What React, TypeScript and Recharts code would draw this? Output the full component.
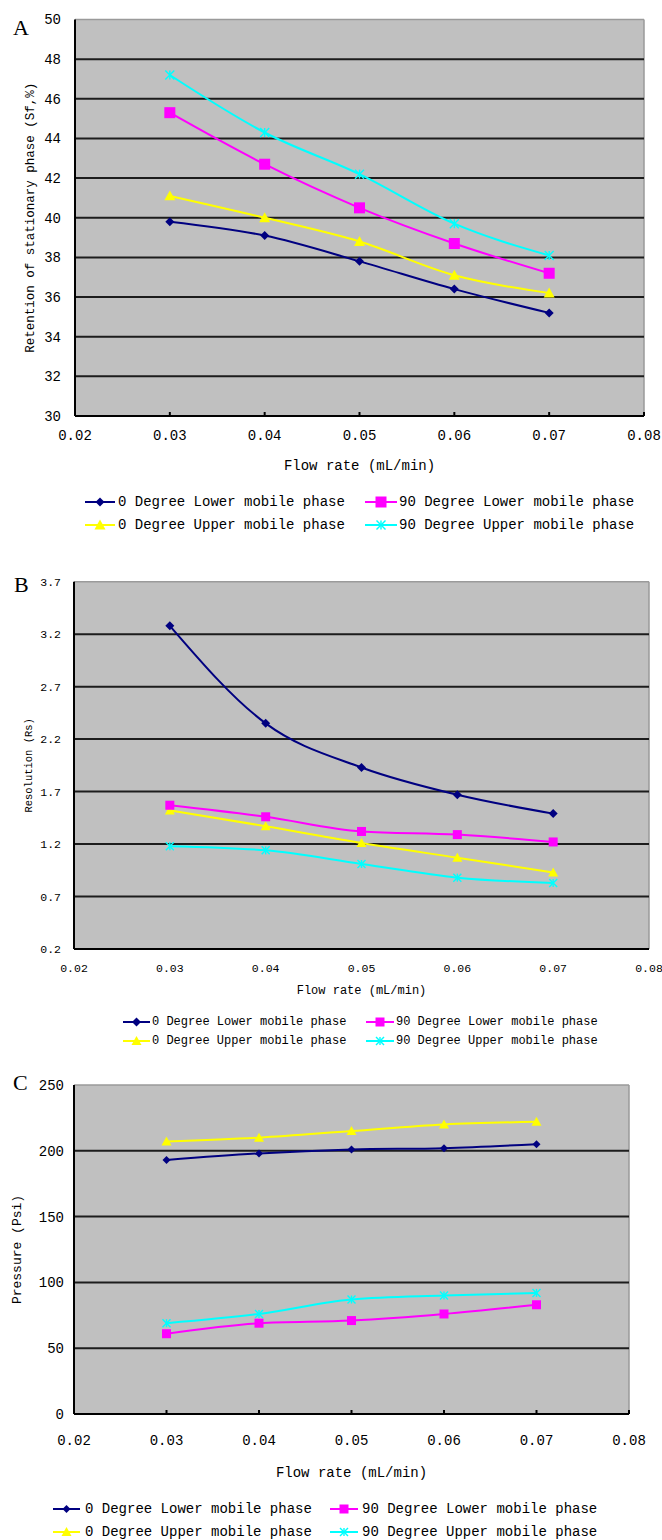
import React from 'react';
import { LineChart, Line, XAxis, YAxis, CartesianGrid } from 'recharts';

// shared x values / labels
const flowRates = [0.03, 0.04, 0.05, 0.06, 0.07];
const xTicks = [0.02, 0.03, 0.04, 0.05, 0.06, 0.07, 0.08];
const seriesNames = [
  '0 Degree Lower mobile phase',
  '90 Degree Lower mobile phase',
  '0 Degree Upper mobile phase',
  '90 Degree Upper mobile phase',
];

// A - retention of stationary phase (Sf, %)
const retentionLower0 = [39.8, 39.1, 37.8, 36.4, 35.2];
const retentionLower90 = [45.3, 42.7, 40.5, 38.7, 37.2];
const retentionUpper0 = [41.1, 40.0, 38.8, 37.1, 36.2];
const retentionUpper90 = [47.2, 44.3, 42.2, 39.7, 38.1];
const retentionTicks = [30, 32, 34, 36, 38, 40, 42, 44, 46, 48, 50];

// B - resolution (Rs)
const resolutionLower0 = [3.28, 2.35, 1.93, 1.67, 1.49];
const resolutionLower90 = [1.57, 1.46, 1.32, 1.29, 1.22];
const resolutionUpper0 = [1.52, 1.37, 1.21, 1.07, 0.93];
const resolutionUpper90 = [1.18, 1.14, 1.01, 0.88, 0.83];
const resolutionTicks = [0.2, 0.7, 1.2, 1.7, 2.2, 2.7, 3.2, 3.7];

// C - pressure (Psi)
const pressureLower0 = [193, 198, 201, 202, 205];
const pressureLower90 = [61, 69, 71, 76, 83];
const pressureUpper0 = [207, 210, 215, 220, 222];
const pressureUpper90 = [69, 76, 87, 90, 92];
const pressureTicks = [0, 50, 100, 150, 200, 250];

const MONO = '"Liberation Mono", "DejaVu Sans Mono", monospace';
const SERIF = '"Liberation Serif", "DejaVu Serif", serif';
const COLORS = ['#000080', '#ff00ff', '#ffff00', '#00ffff'];
const SHAPES = ['diamond', 'square', 'triangle', 'star'];

function toRows(a: number[], b: number[], c: number[], d: number[]) {
  return flowRates.map((x, i) => ({ x, s0: a[i], s1: b[i], s2: c[i], s3: d[i] }));
}

function Marker({ shape, cx, cy, color, size }: any) {
  const r = size / 2;
  if (shape === 'diamond')
    return <polygon points={`${cx},${cy - r} ${cx + r},${cy} ${cx},${cy + r} ${cx - r},${cy}`} fill={color} />;
  if (shape === 'square')
    return <rect x={cx - r} y={cy - r} width={size} height={size} fill={color} />;
  if (shape === 'triangle')
    return <polygon points={`${cx},${cy - r} ${cx + r},${cy + r * 0.8} ${cx - r},${cy + r * 0.8}`} fill={color} />;
  return (
    <g stroke={color} strokeWidth={1.4}>
      <line x1={cx - r} y1={cy - r} x2={cx + r} y2={cy + r} />
      <line x1={cx - r} y1={cy + r} x2={cx + r} y2={cy - r} />
      <line x1={cx} y1={cy - r} x2={cx} y2={cy + r} />
    </g>
  );
}

const makeDot = (i: number, size: number) => (p: any) =>
  <Marker key={`dot-${i}-${p.index}`} shape={SHAPES[i]} cx={p.cx} cy={p.cy} color={COLORS[i]} size={size} />;

function Panel(props: any) {
  const {
    top, height, margin, rows, yDomain, yTicks, yFmt, yTitle, yTitleX, yTitleSize,
    tickSize, yTickMargin, xTickSize, xTickMargin, xAxisHeight, xTitleSize, xTitleOffset, markerSizes,
  } = props;
  const inner = yTicks.slice(1, -1);
  return (
    <div style={{ position: 'absolute', left: 0, top }}>
      <LineChart width={662} height={height} data={rows} margin={margin}>
        <CartesianGrid
          fill="#c0c0c0"
          stroke="#9a9a9a"
          strokeWidth={1.5}
          horizontalValues={[yDomain[1]]}
          verticalValues={[0.08]}
        />
        <CartesianGrid stroke="#1c1c1c" strokeWidth={2} vertical={false} horizontalValues={inner} />
        <XAxis
          dataKey="x"
          type="number"
          domain={[0.02, 0.08]}
          ticks={xTicks}
          tickFormatter={(v: number) => v.toFixed(2)}
          interval={0}
          height={xAxisHeight}
          stroke="#000"
          strokeWidth={2}
          tickSize={xTickSize}
          tickMargin={xTickMargin}
          tick={{ fontSize: tickSize, fill: '#000', fontFamily: MONO }}
          label={{
            value: 'Flow rate (mL/min)',
            position: 'insideBottom',
            offset: xTitleOffset,
            style: { fontSize: xTitleSize, fill: '#000', fontFamily: MONO },
          }}
        />
        <YAxis
          type="number"
          domain={yDomain}
          ticks={yTicks}
          tickFormatter={yFmt}
          interval={0}
          width={margin.yw}
          stroke="#000"
          strokeWidth={2}
          tickLine={false}
          tickSize={0}
          tickMargin={yTickMargin}
          tick={{ fontSize: tickSize, fill: '#000', fontFamily: MONO }}
          label={{
            value: yTitle,
            angle: -90,
            position: 'insideLeft',
            offset: yTitleX,
            style: { fontSize: yTitleSize, fill: '#000', fontFamily: MONO, textAnchor: 'middle' },
          }}
        />
        {[2, 0, 3, 1].map((i) => (
          <Line
            key={i}
            dataKey={`s${i}`}
            type="monotone"
            stroke={COLORS[i]}
            strokeWidth={2}
            dot={makeDot(i, markerSizes[i])}
            activeDot={false}
            isAnimationActive={false}
          />
        ))}
      </LineChart>
    </div>
  );
}

function LegendBlock({ rowsY, cols, fontSize, markerSizes }: any) {
  const items = [0, 1, 2, 3];
  return (
    <g>
      {items.map((i) => {
        const y = rowsY[Math.floor(i / 2)];
        const c = cols[i % 2];
        const mid = (c.x1 + c.x2) / 2;
        return (
          <g key={i}>
            <line x1={c.x1} y1={y} x2={c.x2} y2={y} stroke={COLORS[i]} strokeWidth={2} />
            <Marker shape={SHAPES[i]} cx={mid} cy={y} color={COLORS[i]} size={markerSizes[i]} />
            <text x={c.tx} y={y} dominantBaseline="central" fontSize={fontSize} fontFamily={MONO} fill="#000">
              {seriesNames[i]}
            </text>
          </g>
        );
      })}
    </g>
  );
}

export default function App() {
  const sizesA = [9, 11, 11, 9];
  const sizesB = [9, 9, 10, 8];
  const sizesC = [8, 9, 10, 8];
  return (
    <div style={{ position: 'relative', width: 662, height: 1540, background: '#fff' }}>
      <style>{`body{margin:0;}`}</style>
      <Panel
        top={0}
        height={476}
        margin={{ top: 19.5, right: 18, left: 0, bottom: 0, yw: 75 }}
        rows={toRows(retentionLower0, retentionLower90, retentionUpper0, retentionUpper90)}
        yDomain={[30, 50]}
        yTicks={retentionTicks}
        yFmt={(v: number) => String(v)}
        yTitle="Retention of stationary phase (Sf,%)"
        yTitleX={30}
        yTitleSize={12.5}
        tickSize={14}
        yTickMargin={14}
        xTickSize={-4}
        xTickMargin={18}
        xAxisHeight={60}
        xTitleSize={14}
        xTitleOffset={6}
        markerSizes={sizesA}
      />
      <Panel
        top={540}
        height={459}
        margin={{ top: 41.7, right: 13, left: 0, bottom: 0, yw: 74 }}
        rows={toRows(resolutionLower0, resolutionLower90, resolutionUpper0, resolutionUpper90)}
        yDomain={[0.2, 3.7]}
        yTicks={resolutionTicks}
        yFmt={(v: number) => v.toFixed(1)}
        yTitle="Resolution (Rs)"
        yTitleX={28}
        yTitleSize={10.5}
        tickSize={11.5}
        yTickMargin={13}
        xTickSize={0}
        xTickMargin={15}
        xAxisHeight={50}
        xTitleSize={12}
        xTitleOffset={5}
        markerSizes={sizesB}
      />
      <Panel
        top={1050}
        height={430}
        margin={{ top: 35, right: 33, left: 0, bottom: 0, yw: 74 }}
        rows={toRows(pressureLower0, pressureLower90, pressureUpper0, pressureUpper90)}
        yDomain={[0, 250]}
        yTicks={pressureTicks}
        yFmt={(v: number) => String(v)}
        yTitle="Pressure (Psi)"
        yTitleX={16}
        yTitleSize={13}
        tickSize={14}
        yTickMargin={10}
        xTickSize={-4}
        xTickMargin={25}
        xAxisHeight={66}
        xTitleSize={14}
        xTitleOffset={3}
        markerSizes={sizesC}
      />
      <svg width={662} height={1540} style={{ position: 'absolute', left: 0, top: 0, pointerEvents: 'none' }}>
        <text x={13} y={35} fontSize={22} fontFamily={SERIF} fill="#000">A</text>
        <text x={14} y={592} fontSize={22} fontFamily={SERIF} fill="#000">B</text>
        <text x={13} y={1090} fontSize={22} fontFamily={SERIF} fill="#000">C</text>
        <LegendBlock
          rowsY={[502, 525]}
          cols={[{ x1: 85, x2: 115, tx: 118 }, { x1: 365, x2: 397, tx: 399 }]}
          fontSize={14}
          markerSizes={sizesA}
        />
        <LegendBlock
          rowsY={[1022, 1041]}
          cols={[{ x1: 123, x2: 150, tx: 152 }, { x1: 366, x2: 394, tx: 396 }]}
          fontSize={12}
          markerSizes={sizesB}
        />
        <LegendBlock
          rowsY={[1509, 1532]}
          cols={[{ x1: 53, x2: 80, tx: 85 }, { x1: 330, x2: 358, tx: 362 }]}
          fontSize={14}
          markerSizes={sizesC}
        />
      </svg>
    </div>
  );
}
